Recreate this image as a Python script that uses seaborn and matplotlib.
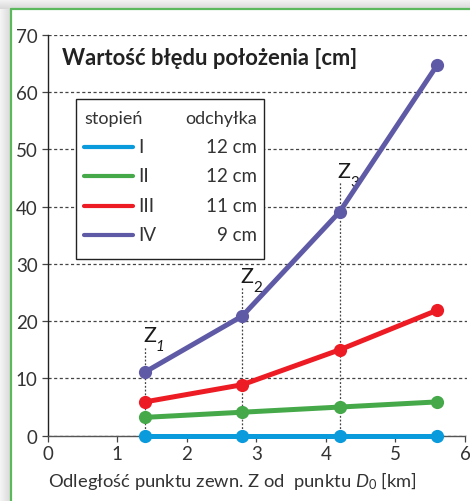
import numpy as np
import pandas as pd
import matplotlib
matplotlib.use('Agg')
import matplotlib.pyplot as plt
import matplotlib.transforms as mtransforms
import seaborn as sns
from matplotlib.patches import Rectangle
from matplotlib.lines import Line2D

# ---- data ----
x_km = [1.4, 2.8, 4.2, 5.6]
levels = ['I', 'II', 'III', 'IV']
deviations = ['12 cm', '12 cm', '11 cm', '9 cm']
err_I = [0.0, 0.0, 0.0, 0.0]
err_II = [3.2, 4.1, 5.0, 5.9]
err_III = [5.9, 8.9, 15.0, 21.9]
err_IV = [11.1, 20.9, 39.1, 64.7]
colors = ['#0a9bdc', '#45a94a', '#ed1c24', '#5f5aa6']
y_ticks = [0, 10, 20, 30, 40, 50, 60, 70]
x_ticks = [0, 1, 2, 3, 4, 5, 6]
z_subs = ['1', '2', '3']
z_sub_style = ['italic', 'normal', 'normal']
z_label_y = [16.5, 26.8, 45.2]
z_line_top = [15.7, 26.0, 44.4]
title = 'Wartość błędu położenia [cm]'
xlabel = r'Odległość punktu zewn. Z od  punktu $\mathit{D_0}$ [km]'
legend_head = ['stopień', 'odchyłka']

sns.set_theme(style='white')
plt.rcParams['font.family'] = ['Lato', 'DejaVu Sans']
plt.rcParams['mathtext.fontset'] = 'custom'
plt.rcParams['mathtext.rm'] = 'Lato'
plt.rcParams['mathtext.it'] = 'Lato:italic'

W, H = 470, 502
fig = plt.figure(figsize=(W / 100, H / 100), dpi=100)
fig.patch.set_facecolor('white')


def fx(px):
    return px / W


def fy(py):
    return 1 - py / H


TXT = '#333333'

# ---- background with shadow and green frame ----
bg = fig.add_axes([0, 0, 1, 1], zorder=-5)
img = np.ones((H, W))
for i in range(10):
    img[i, :] = 0.96 - 0.012 * i
for j in range(11):
    img[10:, j] = np.minimum(img[10:, j], 0.96 - 0.011 * j)
img[10:, 11:] = 1.0
bg.imshow(np.dstack([img] * 3), extent=(0, W, H, 0), aspect='auto', interpolation='nearest')
bg.plot([11, 11], [10, H], color='#5cb85c', lw=1.6)
bg.plot([11, W], [10, 10], color='#5cb85c', lw=1.6)
bg.set_xlim(0, W)
bg.set_ylim(H, 0)
bg.axis('off')

# ---- main axes ----
unit = (465 - 47.5) / 6
ax = fig.add_axes([fx(47.5), fy(436.7), unit * 6.03 / W, 401 / H])
ax.set_facecolor('none')

df = pd.DataFrame({
    'x': x_km * 4,
    'err': err_I + err_II + err_III + err_IV,
    'stopien': np.repeat(levels, len(x_km)),
})
sns.lineplot(data=df, x='x', y='err', hue='stopien', hue_order=levels,
             palette=colors, marker='o', markersize=9.5, markeredgewidth=0,
             linewidth=3.6, legend=False, ax=ax, clip_on=False, zorder=5)

ax.set_xlim(0, 6.03)
ax.set_ylim(0, 70)
ax.set_xticks(x_ticks)
ax.set_yticks(y_ticks)
ax.set_xticklabels([str(v) for v in x_ticks])
ax.set_yticklabels([str(v) for v in y_ticks])
ax.set_xlabel('')
ax.set_ylabel('')
ax.yaxis.grid(True, color='#444444', lw=0.9, ls=(0, (2.5, 2)))
ax.xaxis.grid(False)
ax.tick_params(axis='both', bottom=True, left=True, length=4, width=0.9,
               color='#444444', labelsize=13.5, labelcolor=TXT, pad=3)
for s in ['top', 'right']:
    ax.spines[s].set_visible(False)
ax.spines['left'].set_color('#222222')
ax.spines['left'].set_linewidth(1)
ax.spines['bottom'].set_color('#555555')
ax.spines['bottom'].set_linewidth(1)
ax.spines['bottom'].set_bounds(0, 6)

# drop lines and Z labels
for xi, top, sub, sty, ly in zip(x_km[:3], z_line_top, z_subs, z_sub_style, z_label_y):
    ax.plot([xi, xi], [0, top], color='#444444', lw=0.9, ls=(0, (1.5, 1.5)), zorder=2)
    tz = mtransforms.offset_copy(ax.transData, fig=fig, x=-2, y=0, units='dots')
    ax.text(xi, ly, 'Z', transform=tz, fontsize=15.5, va='baseline', ha='left', color='#1a1a1a')
    ts = mtransforms.offset_copy(ax.transData, fig=fig, x=11, y=-9, units='dots')
    ax.text(xi, ly, sub, transform=ts, fontsize=11, va='baseline', ha='left',
            color='#1a1a1a', fontstyle=sty)

# ---- title ----
fig.text(fx(62), fy(65), title, fontsize=15.8, fontweight='bold', color='#222222', va='baseline')

# ---- legend box ----
ax.add_patch(Rectangle((fx(76), fy(260)), fx(264) - fx(76), fy(100) - fy(260),
                       transform=fig.transFigure, fc='white', ec='#222222', lw=1,
                       zorder=3, clip_on=False))
ax.text(fx(84), fy(119), legend_head[0], transform=fig.transFigure, fontsize=13,
        va='center', ha='left', color=TXT, zorder=4)
ax.text(fx(257), fy(119), legend_head[1], transform=fig.transFigure, fontsize=13,
        va='center', ha='right', color=TXT, zorder=4)
row_y = [148, 177, 206.5, 235.5]
for ry, lev, dev, c in zip(row_y, levels, deviations, colors):
    ax.add_line(Line2D([fx(84), fx(133)], [fy(ry), fy(ry)], transform=fig.transFigure,
                       color=c, lw=3, zorder=4, clip_on=False))
    ax.text(fx(138), fy(ry), lev, transform=fig.transFigure, fontsize=13.5,
            va='center', ha='left', color=TXT, zorder=4)
    ax.text(fx(257), fy(ry), dev, transform=fig.transFigure, fontsize=13.5,
            va='center', ha='right', color=TXT, zorder=4)

# ---- x label ----
fig.text(fx(48), fy(487), xlabel, fontsize=13.2, va='baseline', ha='left', color=TXT)

fig.savefig('out.png', dpi=100)
